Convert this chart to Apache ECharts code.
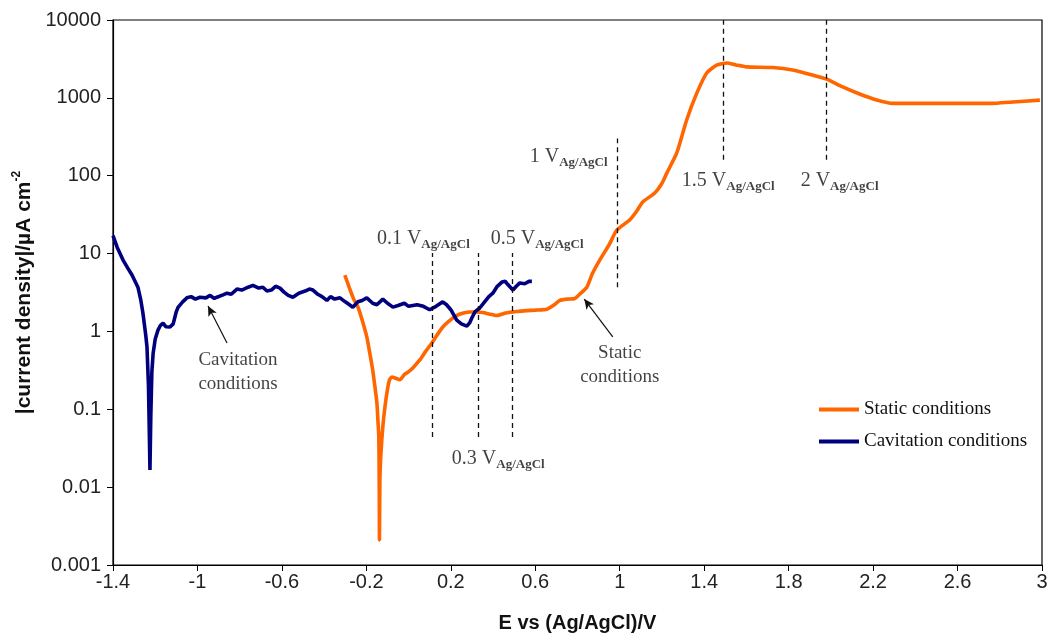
<!DOCTYPE html>
<html>
<head>
<meta charset="utf-8">
<script src="https://cdn.jsdelivr.net/npm/echarts@6/dist/echarts.min.js"></script>
<style>
html,body{margin:0;padding:0;background:#fff;}
#chart{width:1051px;height:641px;}
</style>
</head>
<body>
<div id="chart"></div>
<script>
// ---------- data ----------
const xTickMin = -1.4, xTickMax = 3, xTickStep = 0.4;
const yMin = 0.001, yMax = 10000;

const staticName = 'Static conditions';
const cavName = 'Cavitation conditions';

// E (V vs Ag/AgCl), |current density| (uA cm^-2)
const staticData = [
  [-0.302, 5.3], [-0.28, 3.6], [-0.26, 2.6], [-0.24, 2.06], [-0.22, 1.4],
  [-0.198, 0.85], [-0.185, 0.55], [-0.17, 0.32], [-0.16, 0.2], [-0.15, 0.12],
  [-0.145, 0.07], [-0.141, 0.044], [-0.139, 0.01], [-0.138, 0.0021], [-0.136, 0.012],
  [-0.131, 0.027], [-0.122, 0.06], [-0.112, 0.107], [-0.1, 0.18], [-0.09, 0.24],
  [-0.079, 0.26], [-0.06, 0.25], [-0.041, 0.24], [-0.02, 0.28], [-0.003, 0.3],
  [0.02, 0.34], [0.053, 0.43], [0.08, 0.55], [0.11, 0.71], [0.135, 0.9],
  [0.162, 1.14], [0.19, 1.35], [0.228, 1.6], [0.26, 1.72], [0.29, 1.78],
  [0.32, 1.78], [0.351, 1.75], [0.38, 1.68], [0.418, 1.6], [0.46, 1.72],
  [0.512, 1.8], [0.56, 1.85], [0.6, 1.88], [0.655, 1.93], [0.69, 2.2],
  [0.716, 2.5], [0.75, 2.6], [0.787, 2.65], [0.81, 3.0], [0.844, 3.7],
  [0.87, 5.5], [0.906, 8.3], [0.95, 13], [0.986, 20], [1.047, 27],
  [1.08, 35], [1.109, 46], [1.166, 60], [1.2, 80], [1.223, 108],
  [1.27, 196], [1.317, 520], [1.365, 1150], [1.412, 2090], [1.459, 2630],
  [1.507, 2800], [1.55, 2650], [1.6, 2500], [1.724, 2450], [1.819, 2280],
  [1.914, 1960], [1.98, 1740], [2.056, 1380], [2.136, 1120], [2.217, 940],
  [2.293, 850], [2.453, 850], [2.61, 850], [2.766, 850], [2.847, 880],
  [2.99, 935]
];

const cavData = [
  [-1.4, 17], [-1.38, 12], [-1.353, 8.3], [-1.33, 6.5], [-1.31, 5.3],
  [-1.282, 3.7], [-1.268, 2.5], [-1.258, 1.7], [-1.245, 0.9], [-1.239, 0.63],
  [-1.232, 0.2], [-1.228, 0.05], [-1.225, 0.0166], [-1.221, 0.08], [-1.216, 0.3],
  [-1.21, 0.52], [-1.2, 0.8], [-1.187, 1.04], [-1.175, 1.2], [-1.163, 1.28],
  [-1.15, 1.15], [-1.13, 1.14], [-1.115, 1.25], [-1.1, 1.8], [-1.092, 2.04],
  [-1.07, 2.4], [-1.05, 2.7], [-1.03, 2.8], [-1.01, 2.6], [-0.988, 2.75],
  [-0.96, 2.7], [-0.94, 2.9], [-0.92, 2.65], [-0.908, 2.75], [-0.879, 2.95],
  [-0.86, 3.1], [-0.84, 3.0], [-0.813, 3.5], [-0.79, 3.4], [-0.76, 3.7],
  [-0.737, 3.9], [-0.71, 3.6], [-0.69, 3.7], [-0.671, 3.3], [-0.65, 3.4],
  [-0.63, 3.8], [-0.609, 3.6], [-0.59, 3.2], [-0.57, 2.9], [-0.548, 2.75],
  [-0.52, 3.1], [-0.49, 3.3], [-0.47, 3.5], [-0.453, 3.4], [-0.43, 3.0],
  [-0.41, 2.8], [-0.387, 2.5], [-0.37, 2.8], [-0.35, 2.6], [-0.325, 2.7],
  [-0.3, 2.4], [-0.28, 2.2], [-0.264, 2.05], [-0.24, 2.4], [-0.22, 2.5],
  [-0.198, 2.7], [-0.17, 2.3], [-0.15, 2.2], [-0.122, 2.6], [-0.1, 2.3],
  [-0.074, 2.05], [-0.05, 2.15], [-0.02, 2.3], [0.0, 2.1], [0.04, 2.2],
  [0.07, 2.1], [0.1, 1.9], [0.13, 2.1], [0.162, 2.4], [0.18, 2.2],
  [0.2, 1.9], [0.228, 1.4], [0.25, 1.25], [0.276, 1.17], [0.29, 1.3],
  [0.3, 1.5], [0.315, 1.8], [0.337, 2.0], [0.36, 2.4], [0.38, 2.8],
  [0.399, 3.1], [0.42, 3.8], [0.442, 4.3], [0.458, 4.4], [0.47, 4.0],
  [0.494, 3.4], [0.51, 3.8], [0.527, 4.2], [0.55, 4.1], [0.57, 4.4],
  [0.584, 4.4]
];

// dashed potential markers: [E, yFrom, yTo]
const markerLines = [
  [0.11, 0.044, 10.2],
  [0.33, 0.044, 10.2],
  [0.49, 0.044, 10.2],
  [0.99, 3.7, 300],
  [1.49, 160, 10000],
  [1.98, 160, 10000]
];

// potential labels: [main text, subscript, E, y]
const markerLabels = [
  ['0.1 V', 'Ag/AgCl', -0.15, 14.9],
  ['0.5 V', 'Ag/AgCl', 0.389, 14.9],
  ['0.3 V', 'Ag/AgCl', 0.205, 0.0224],
  ['1 V', 'Ag/AgCl', 0.574, 169],
  ['1.5 V', 'Ag/AgCl', 1.294, 83],
  ['2 V', 'Ag/AgCl', 1.857, 83]
];

// note text and arrows
const noteLabels = [
  ['Cavitation\nconditions', -0.808, 0.30],
  ['Static\nconditions', 1.0, 0.37]
];
const noteArrows = [
  [[-0.86, 0.71], [-0.95, 2.12]],
  [[0.967, 0.85], [0.832, 2.6]]
];

// ---------- chart ----------
const ORANGE = '#FF6600';
const NAVY = '#00007F';
const serif = '"Liberation Serif", "Times New Roman", serif';
const sans = '"Liberation Sans", Arial, sans-serif';

const chart = echarts.init(document.getElementById('chart'));

const markLineData = markerLines.map(m => [
  { coord: [m[0], m[1]], symbol: 'none' },
  { coord: [m[0], m[2]], symbol: 'none' }
]).concat(noteArrows.map(a => [
  { coord: a[0], symbol: 'none', lineStyle: { type: 'solid', width: 1.2, color: '#111' } },
  { coord: a[1], symbol: 'arrow', symbolSize: [7, 10] }
]));

const option = {
  backgroundColor: '#fff',
  animation: false,
  grid: {
    left: 113, right: 9, top: 20, bottom: 76,
    show: true, borderColor: '#000', borderWidth: 1.2, backgroundColor: 'transparent'
  },
  legend: {
    data: [staticName, cavName],
    orient: 'vertical',
    left: 814, top: 395,
    itemWidth: 40, itemHeight: 4, itemGap: 13,
    icon: 'rect',
    textStyle: { fontFamily: serif, fontSize: 19, color: '#111' },
    selectedMode: false
  },
  xAxis: {
    type: 'value',
    min: xTickMin, max: xTickMax, interval: xTickStep,
    name: 'E vs (Ag/AgCl)/V',
    nameLocation: 'middle', nameGap: 48,
    nameTextStyle: { fontFamily: sans, fontSize: 20, fontWeight: 'bold', color: '#111' },
    axisLine: { onZero: false, lineStyle: { color: '#000', width: 1.2 } },
    axisTick: { inside: false, length: 6, lineStyle: { color: '#000' } },
    axisLabel: {
      fontFamily: sans, fontSize: 20, color: '#222', margin: 7,
      formatter: v => String(Math.round(v * 10) / 10)
    },
    splitLine: { show: false }
  },
  yAxis: {
    type: 'log', logBase: 10, min: yMin, max: yMax,
    name: '{a||current density|/µA cm}{b|-2}',
    nameLocation: 'middle', nameGap: 63,
    nameTextStyle: {
      color: '#111',
      rich: {
        a: { fontFamily: sans, fontSize: 21, fontWeight: 'bold', color: '#111', lineHeight: 24, verticalAlign: 'bottom' },
        b: { fontFamily: sans, fontSize: 12, fontWeight: 'bold', color: '#111', lineHeight: 14, verticalAlign: 'top' }
      }
    },
    axisLine: { show: true, onZero: false, lineStyle: { color: '#000', width: 1.2 } },
    axisTick: { show: true, inside: false, length: 6, lineStyle: { color: '#000' } },
    axisLabel: {
      fontFamily: sans, fontSize: 20, color: '#222', margin: 12,
      formatter: v => {
        const e = Math.round(Math.log10(v));
        return e < 0 ? Math.pow(10, e).toFixed(-e) : String(Math.round(Math.pow(10, e)));
      }
    },
    splitLine: { show: false },
    minorTick: { show: false }
  },
  series: [
    {
      name: staticName, type: 'line', data: staticData,
      showSymbol: false, symbol: 'none', smooth: 0.2,
      lineStyle: { color: ORANGE, width: 3.6 },
      itemStyle: { color: ORANGE },
      z: 3, silent: true,
      markLine: {
        silent: true, symbol: 'none', animation: false,
        label: { show: false },
        lineStyle: { color: '#111', type: [5, 4], width: 1.3 },
        emphasis: { disabled: true },
        data: markLineData
      }
    },
    {
      name: cavName, type: 'line', data: cavData,
      showSymbol: false, symbol: 'none',
      lineStyle: { color: NAVY, width: 3.6 },
      itemStyle: { color: NAVY },
      z: 4, silent: true
    },
    {
      name: 'markerLabels', type: 'scatter', silent: true,
      symbolSize: 0, z: 6,
      data: markerLabels.map(m => ({ value: [m[2], m[3]], main: m[0], sub: m[1] })),
      label: {
        show: true, position: 'right', distance: 0,
        formatter: p => '{n|' + p.data.main + '}{s|' + p.data.sub + '}',
        rich: {
          n: { fontFamily: serif, fontSize: 20, color: '#111', lineHeight: 22, verticalAlign: 'top' },
          s: { fontFamily: serif, fontSize: 13, fontWeight: 'bold', color: '#111', lineHeight: 10, verticalAlign: 'bottom' }
        }
      }
    },
    {
      name: 'noteLabels', type: 'scatter', silent: true,
      symbolSize: 0, z: 6,
      data: noteLabels.map(m => ({ value: [m[1], m[2]], txt: m[0] })),
      label: {
        show: true, position: 'inside',
        formatter: p => p.data.txt,
        fontFamily: serif, fontSize: 19, color: '#111', lineHeight: 24, align: 'center'
      }
    }
  ]
};
chart.setOption(option);
</script>
</body>
</html>
